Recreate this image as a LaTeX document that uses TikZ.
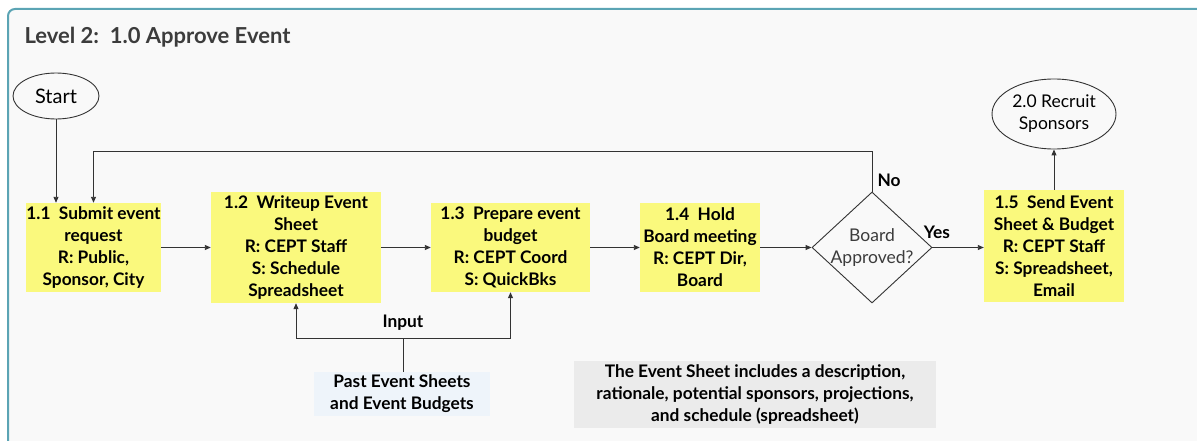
\documentclass[tikz,border=0pt]{standalone}
\usepackage{fontspec}
\setmainfont{Lato}
\usetikzlibrary{shapes.geometric, arrows.meta, positioning}
\definecolor{framecolor}{RGB}{91,164,180}
\definecolor{canvas}{RGB}{249,249,249}
\definecolor{taskcolor}{RGB}{250,249,125}
\definecolor{datacolor}{RGB}{238,244,250}
\definecolor{notecolor}{RGB}{235,235,235}
\definecolor{linecolor}{RGB}{51,51,51}
\definecolor{titlecolor}{RGB}{60,60,60}
\newcommand{\BoxFont}{\fontsize{17.3}{22}\selectfont\bfseries}

\begin{document}
\begin{tikzpicture}[
    x=1pt, y=-1pt,
    task/.style={fill=taskcolor, inner sep=0pt, align=center, text=black, font=\BoxFont},
    terminal/.style={draw=linecolor, line width=0.9pt, ellipse, inner sep=0pt, align=center, font=\fontsize{17.5}{22}\selectfont},
    decision/.style={draw=linecolor, line width=0.9pt, diamond, inner sep=0pt},
    flow/.style={draw=linecolor, line width=0.9pt, -{Triangle[length=6pt, width=5pt]}},
    plain/.style={draw=linecolor, line width=0.9pt},
    tag/.style={font=\BoxFont, text=black}
]
    \useasboundingbox (0,0) rectangle (1197,441);
    % Frame and title
    \draw[framecolor, line width=2pt, fill=canvas, rounded corners=7pt] (8,9) rectangle (1230,480);
    \node[font=\fontsize{22}{26}\selectfont\bfseries, text=titlecolor, anchor=west] (title) at (21,37) {Level 2:\ \ 1.0 Approve Event};

    % Terminals
    \node[terminal, minimum width=86, minimum height=46, font=\fontsize{20}{24}\selectfont] (start) at (56,96) {Start};
    \node[terminal, minimum width=124, minimum height=70] (recruit) at (1054,114) {2.0 Recruit\\Sponsors};

    % Process steps
    \node[task, minimum width=135, minimum height=89] (t11) at (93.5,247.5) {1.1\ \ Submit event\\request\\R: Public,\\Sponsor, City};
    \node[task, minimum width=170, minimum height=111] (t12) at (296,247.5) {1.2\ \ Writeup Event\\Sheet\\R: CEPT Staff\\S: Schedule\\Spreadsheet};
    \node[task, minimum width=159, minimum height=89] (t13) at (510.5,247.5) {1.3\ \ Prepare event\\budget\\R: CEPT Coord\\S: QuickBks};
    \node[task, minimum width=120, minimum height=89] (t14) at (700,247.5) {1.4\ \ Hold\\Board meeting\\R: CEPT Dir,\\Board};
    \node[task, minimum width=140, minimum height=112] (t15) at (1054,246) {1.5\ \ Send Event\\Sheet \& Budget\\R: CEPT Staff\\S: Spreadsheet,\\Email};

    % Decision
    \node[decision, minimum width=120, minimum height=111] (dec) at (872,247.5) {};
    \node[align=center, text=titlecolor, font=\fontsize{17.5}{22}\selectfont] (declabel) at (dec.center) {Board\\Approved?};

    % Inputs and note
    \node[fill=datacolor, minimum width=176, minimum height=44, inner sep=0pt, align=center, font=\BoxFont] (data) at (402,394) {Past Event Sheets\\and Event Budgets};
    \node[fill=notecolor, minimum width=362, minimum height=67, inner sep=0pt, align=center, font=\BoxFont] (note) at (755,394.5) {The Event Sheet includes a description,\\rationale, potential sponsors, projections,\\and schedule (spreadsheet)};

    % Main flow
    \draw[flow] (start.south) -- (t11.north -| start.south);
    \draw[flow] (t11) -- (t12);
    \draw[flow] (t12) -- (t13);
    \draw[flow] (t13) -- (t14);
    \draw[flow] (t14) -- (dec.west);
    \draw[flow] (dec.east) -- (t15.west |- dec.east);
    \draw[flow] (t15.north) -- (recruit.south);
    \draw[flow] (dec.north) -- ++(0,-40) -| (t11.north);

    % Input branch
    \coordinate (branch) at (403,338);
    \draw[plain] (data.north -| branch) -- (branch);
    \draw[flow] (branch) -| (t12.south);
    \draw[flow] (branch) -| (t13.south);

    % Labels
    \node[tag, anchor=west] (nolabel) at (874,180) {No};
    \node[tag] (yeslabel) at (937,232) {Yes};
    \node[tag] (inputlabel) at (403,323) {Input};
\end{tikzpicture}
\end{document}
